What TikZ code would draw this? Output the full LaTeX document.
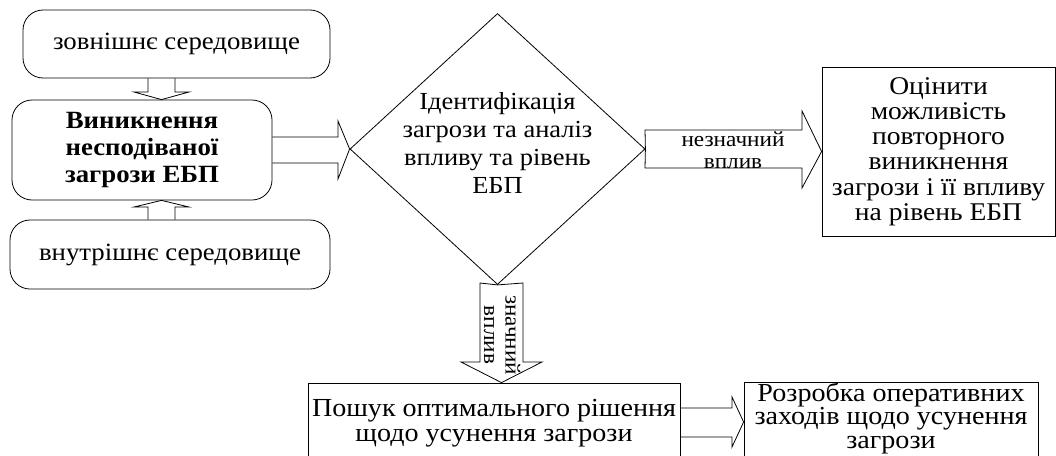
\documentclass[tikz,border=0pt]{standalone}
\usepackage{fontspec}
\setmainfont[FakeStretch=1.08]{Liberation Serif}
\usetikzlibrary{calc,shapes.geometric}
\begin{document}
\begin{tikzpicture}[x=1pt,y=-1pt,
  rbox/.style={draw,rounded corners=20pt,line width=0.8pt,inner sep=0pt,align=center},
  sbox/.style={draw,line width=0.8pt,inner sep=0pt,align=center},
  txt/.style={align=center,inner sep=0pt},
  blockarrow/.style={draw,line width=0.8pt,line join=miter},
  small/.style={font=\fontsize{21.5}{21.5}\selectfont,align=center,inner sep=0pt}]
\clip (0,0) rectangle (1056,455);
\fill[white] (0,0) rectangle (1056,455);
% left boxes
\node[rbox,minimum width=307pt,minimum height=68pt,font=\fontsize{24.8}{27}\selectfont] (n1) at (176.5,44) {зовнішнє середовище};
\node[rbox,minimum width=260pt,minimum height=100pt,font=\fontsize{24.8}{27}\selectfont] (n2) at (142,150) {\bfseries Виникнення\\\bfseries несподіваної\\\bfseries загрози ЕБП};
\node[rbox,minimum width=320pt,minimum height=69pt,font=\fontsize{24.8}{27}\selectfont] (n3) at (170,254.5) {внутрішнє середовище};
% diamond
\node[draw,diamond,line width=0.8pt,minimum width=295pt,minimum height=271pt,inner sep=0pt] (d) at (497.5,149) {};
\node[txt,font=\fontsize{24.5}{28}\selectfont] (dt) at (497.5,143) {Ідентифікація\\загрози та аналіз\\впливу та рівень\\ЕБП};
% right box
\node[sbox,minimum width=233pt,minimum height=169pt,font=\fontsize{25.5}{25.2}\selectfont] (r) at (938.5,151.5) {Оцінити\\можливість\\повторного\\виникнення\\загрози і її впливу\\на рівень ЕБП};
% bottom boxes
\node[sbox,minimum width=372pt,minimum height=80pt,font=\fontsize{26}{25.5}\selectfont] (b1) at (494,423) {Пошук оптимального рішення\\щодо усунення загрози};
\node[sbox,minimum width=294pt,minimum height=100pt] (b2) at (891,432) {};
\node[txt,font=\fontsize{26}{23.5}\selectfont] (b2t) at (891,418) {Розробка оперативних\\заходів щодо усунення\\загрози};
% arrow n1 -> n2
\draw[blockarrow] (148,0 |- n1.south) -- (148,92) -- (134,92) -- (161.5,0 |- n2.north) -- (189,92) -- (175,92) -- (175,0 |- n1.south);
% arrow n3 -> n2
\draw[blockarrow] (148,0 |- n3.north) -- (148,207) -- (134,207) -- (161.5,0 |- n2.south) -- (189,207) -- (175,207) -- (175,0 |- n3.north);
% arrow n2 -> d
\draw[blockarrow] (n2.east |- 0,137) -- (338,137) -- (338,121) -- (d.west) -- (338,179) -- (338,163) -- (n2.east |- 0,163);
% arrow d -> r
\draw[blockarrow] (d.east) -- (645,130) -- (802,130) -- (802,111) -- (r.west) -- (802,188) -- (802,168) -- (645,168) -- cycle;
\node[small] (a4t) at (733,150) {незначний\\вплив};
% arrow d -> b1
\draw[blockarrow] (d.south) -- (480,283) -- (480,362) -- (461,362) -- (501.5,0 |- b1.north) -- (542,362) -- (523,362) -- (523,283) -- cycle;
\node[small,rotate=-90] (a5t) at (502,335) {значний\\вплив};
% arrow b1 -> b2
\draw[blockarrow] (b1.east |- 0,408) -- (732,408) -- (732,397) -- (b2.west |- 0,422) -- (732,447) -- (732,437) -- (b1.east |- 0,437);
\end{tikzpicture}
\end{document}
